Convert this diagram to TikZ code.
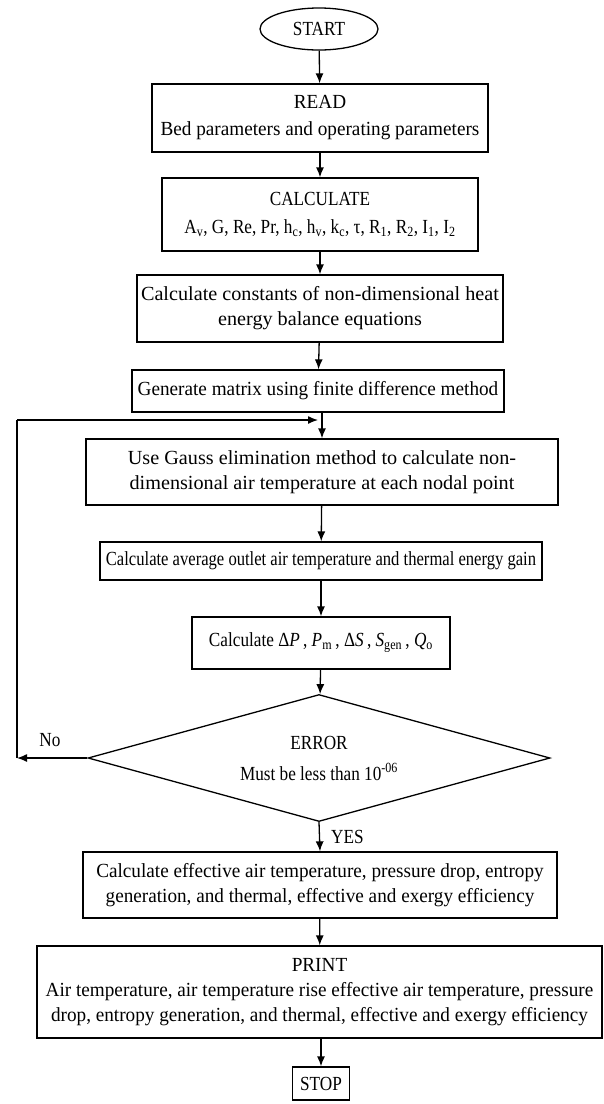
\documentclass[tikz,border=0pt]{standalone}
\usepackage{fontspec}
\setmainfont{Liberation Serif}[FakeStretch=0.96]
\newfontfamily\fnarrow{Liberation Serif}[FakeStretch=0.86]
\newfontfamily\fnarrower{Liberation Serif}[FakeStretch=0.83]
\newfontfamily\fwide{Liberation Serif}[FakeStretch=1.01]
\usetikzlibrary{shapes.geometric,arrows.meta}
\begin{document}
\begin{tikzpicture}[x=1pt,y=-1pt,
  every node/.style={font=\fontsize{20}{25}\selectfont},
  box/.style={draw,line width=1.3pt,rectangle,align=center,inner sep=0pt},
  arr/.style={line width=1.3pt,-{Latex[length=10pt,width=8pt]}},
  lin/.style={line width=1.3pt}]
\useasboundingbox (0,0) rectangle (604,1104);
\node[draw,line width=1.3pt,ellipse,minimum width=118pt,minimum height=42pt,inner sep=0pt,font=\fontsize{20}{25}\fnarrow] (start) at (319,29) {START};
\node[box,minimum width=336pt,minimum height=68pt] (read) at (320,118) {READ\\[2pt]Bed parameters and operating parameters};
\node[box,minimum width=316pt,minimum height=73pt,font=\fontsize{20}{25}\fnarrow] (calc) at (320,214.5) {CALCULATE\\[3pt]A\textsubscript{v}, G, Re, Pr, h\textsubscript{c}, h\textsubscript{v}, k\textsubscript{c}, τ, R\textsubscript{1}, R\textsubscript{2}, I\textsubscript{1}, I\textsubscript{2}};
\node[box,minimum width=366pt,minimum height=67pt,font=\fontsize{20}{25}\fwide] (const) at (320,308.5) {Calculate constants of non-dimensional heat\\energy balance equations};
\node[box,minimum width=372pt,minimum height=42pt] (gen) at (318,391) {Generate matrix using finite difference method};
\node[box,minimum width=472pt,minimum height=66pt,font=\fontsize{20}{25}\fwide] (gauss) at (322,472) {Use Gauss elimination method to calculate non-\\dimensional air temperature at each nodal point};
\node[box,minimum width=442pt,minimum height=38pt,font=\fontsize{20}{25}\fnarrower] (avg) at (321,561) {Calculate average outlet air temperature and thermal energy gain};
\node[box,minimum width=258pt,minimum height=52pt,font=\fontsize{20}{25}\fnarrow] (dp) at (321,643) {Calculate Δ\textit{P}\,, \textit{P}\textsubscript{m}\,, Δ\textit{S}\,, \textit{S}\textsubscript{gen}\,, \textit{Q}\textsubscript{o}};
\node[draw,line width=1.3pt,diamond,minimum width=462pt,minimum height=127pt,inner sep=0pt] (err) at (319,758) {};
\node[align=center,font=\fontsize{20}{25}\fnarrow] (errt) at (err.center) {ERROR\\[6pt]Must be less than 10\textsuperscript{-06}};
\node[box,minimum width=474pt,minimum height=66pt] (eff) at (320,885) {Calculate effective air temperature, pressure drop, entropy\\generation, and thermal, effective and exergy efficiency};
\node[box,minimum width=565pt,minimum height=92pt] (print) at (319.5,992) {PRINT\\Air temperature, air temperature rise effective air temperature, pressure\\drop, entropy generation, and thermal, effective and exergy efficiency};
\node[box,minimum width=57pt,minimum height=33pt,font=\fontsize{20}{25}\fnarrow] (stop) at (321,1083.5) {STOP};
\node[font=\fontsize{20}{25}\fnarrow] (no) at (50,740) {No};
\node[anchor=west,inner sep=0pt,font=\fontsize{20}{25}\fnarrow] (yes) at (331,837) {YES};
\coordinate (cL) at (17,758);
\coordinate (cT) at (17,420);
\coordinate (mg) at (318,420);
\draw[arr] (start) -- (read);
\draw[arr] (read) -- (calc);
\draw[arr] (calc) -- (const);
\draw[arr] (const) -- (gen);
\draw[arr] (gen.south -| gauss.north) -- (gauss.north);
\draw[arr] (gauss) -- (avg);
\draw[arr] (avg) -- (dp);
\draw[arr] (dp) -- (err);
\draw[arr] (err.west) -- (cL);
\draw[lin] (cL) -- (cT);
\draw[arr] (cT) -- (mg);
\draw[arr] (err.south) -- (eff.north);
\draw[arr] (eff) -- (print);
\draw[arr] (print.south -| stop.north) -- (stop);
\end{tikzpicture}
\end{document}
